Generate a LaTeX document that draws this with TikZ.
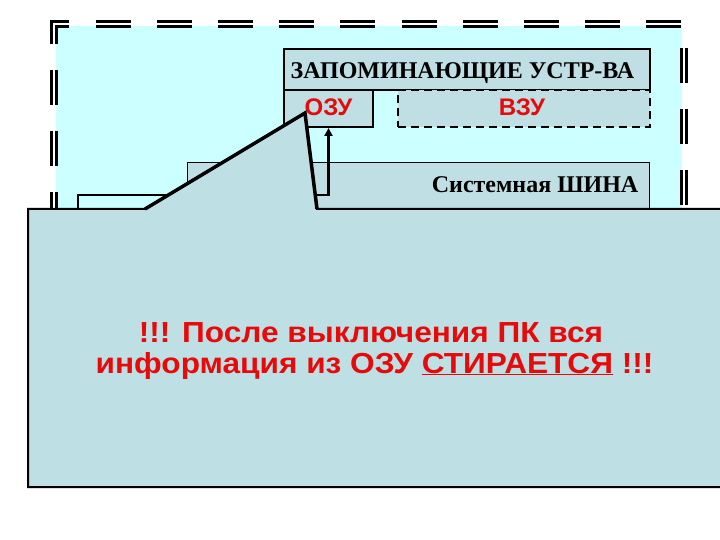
\documentclass[tikz,border=0pt]{standalone}
\usepackage{fontspec}
\setmainfont{Liberation Serif}
\newfontfamily\arialf{Liberation Sans}
\usetikzlibrary{arrows.meta}
\definecolor{bgcyan}{RGB}{204,255,255}
\definecolor{boxfill}{RGB}{192,223,228}
\definecolor{callfill}{RGB}{190,223,228}
\definecolor{txtred}{RGB}{230,10,10}
\tikzset{
  memorybox/.style={draw=black, line width=2pt, fill=boxfill, inner sep=0pt},
  busbox/.style={draw=black, line width=0.8pt, fill=boxfill, inner sep=0pt},
  blacklabel/.style={font=\fontsize{24}{26}\selectfont\bfseries, text=black, inner sep=0pt},
  redlabel/.style={font=\arialf\fontsize{24}{26}\selectfont\bfseries, text=txtred},
  bigred/.style={font=\arialf\fontsize{29}{31}\selectfont\bfseries, text=txtred, anchor=base, inner sep=0pt},
}
\begin{document}
\begin{tikzpicture}[x=1pt,y=-1pt]
\useasboundingbox (0,0) rectangle (720,540);
\fill[white] (0,0) rectangle (720,540);
% background area
\fill[bgcyan] (56,26) rectangle (682,240);
% outer dashed double border
\draw[line width=3pt, double=white, double distance=2pt,
      dash pattern=on 35pt off 26.2pt, dash phase=38.4pt]
  (54,250) -- (54,24) -- (684,24) -- (684,250);
% memory devices
\node[memorybox, minimum width=366pt, minimum height=41pt, anchor=north west] (zap) at (283,48) {};
\node[blacklabel, anchor=base] (zaptxt) at (462.5,78.7) {ЗАПОМИНАЮЩИЕ УСТР-ВА};
\node[memorybox, minimum width=89pt, minimum height=37pt, anchor=north west] (ozu) at (283,89) {};
\node[memorybox, dash pattern=on 8pt off 5pt, minimum width=252pt, minimum height=37pt, anchor=north west] (vzu) at (397,89) {};
\node[redlabel] (ozutxt) at ([xshift=0pt,yshift=1pt]ozu.center) {ОЗУ};
\node[redlabel] (vzutxt) at ([xshift=-2pt,yshift=1pt]vzu.center) {ВЗУ};
% system bus
\node[busbox, minimum width=462pt, minimum height=80pt, anchor=north west] (bus) at (187,162) {};
\node[blacklabel, anchor=base east] (bustxt) at (638.5,192.5) {Системная ШИНА};
% hidden block
\node[memorybox, fill=bgcyan, minimum width=110pt, minimum height=60pt, anchor=north west] (cpu) at (77,194) {};
% arrow to RAM
\coordinate (arrstart) at (300,195);
\draw[line width=2.5pt, -{Triangle[length=8pt,width=8pt]}] (arrstart) -| (ozu.south);
% callout
\coordinate (tip) at (305,113);
\coordinate (bl) at (145,209);
\coordinate (br) at (317,209);
\filldraw[fill=callfill, draw=black, line width=2pt, line join=miter]
  (28,209) -- (bl) -- (tip) -- (br) -- (724,209) -- (724,487) -- (28,487) -- cycle;
\draw[line width=3.5pt, line join=miter] (bl) -- (tip) -- (br);
% warning text
\node[bigred] (line1) at (371,342) {\scalebox{1.09}[1]{!!! После выключения ПК вся}};
\node[bigred] (line2) at (374.5,373) {\scalebox{1.09}[1]{информация из ОЗУ \underline{СТИРАЕТСЯ} !!!}};
\end{tikzpicture}
\end{document}
